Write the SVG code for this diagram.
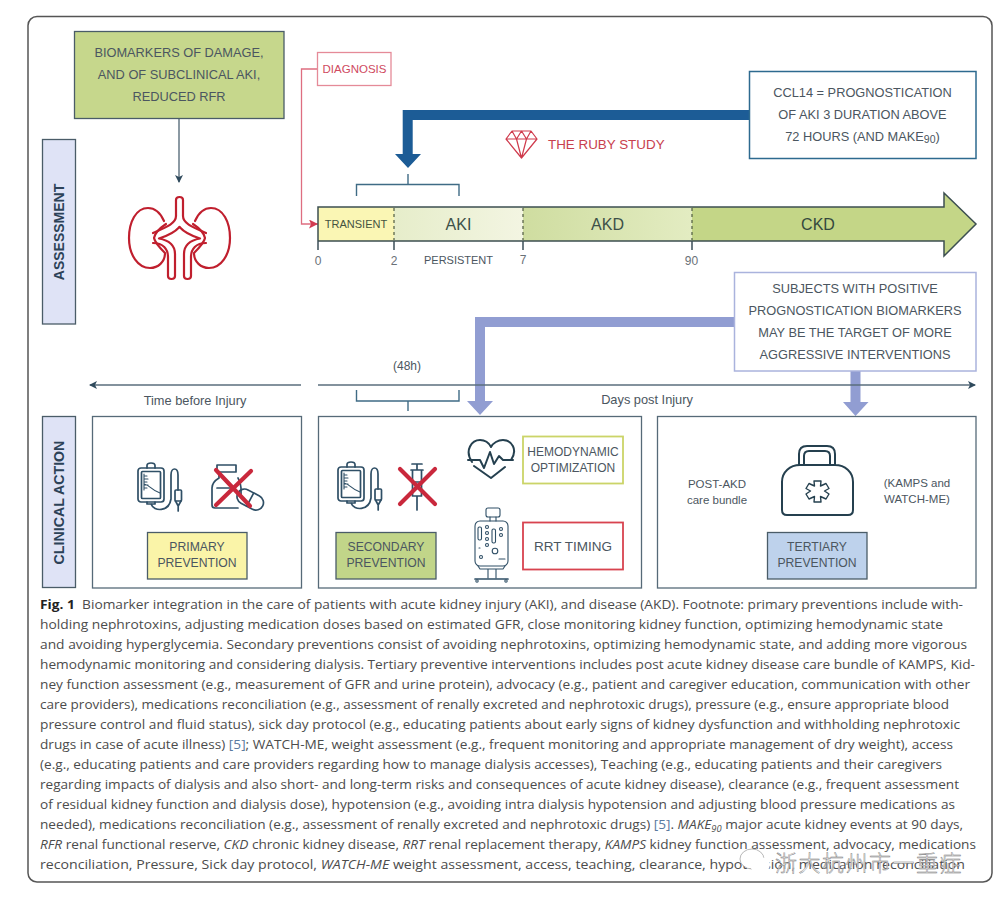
<svg xmlns="http://www.w3.org/2000/svg" width="997" height="901" viewBox="0 0 997 901">
<style>
text{font-family:"Liberation Sans",Arial,sans-serif;fill:#4b5660;text-anchor:middle}
.l{font-size:12.8px}
.cap{font-family:"Open Sans","Noto Sans",sans-serif;font-size:13.2px;fill:#4c4c4c;text-anchor:start}
.ic{fill:none;stroke:#2f4f66;stroke-width:1.7;stroke-linejoin:round;stroke-linecap:round}
.ict{fill:none;stroke:#2f4f66;stroke-width:1.1;stroke-linecap:round}
.x{fill:none;stroke:#c9283c;stroke-width:4.2;stroke-linecap:round}
.k{fill:none;stroke:#c01f2e;stroke-width:2.2;stroke-linejoin:round;stroke-linecap:round}
.box{stroke:#4a5c68;stroke-width:1.3}
.panel{fill:#fff;stroke:#566a78;stroke-width:1.3}
.thin{fill:none;stroke:#5a6e7c;stroke-width:1.4}
.br{fill:none;stroke:#3f6b85;stroke-width:1.4}
.tick{stroke:#3c4f58;stroke-width:1.5}
.dash{stroke:#4f5a40;stroke-width:1.2;stroke-dasharray:3 3}
.blue{fill:#1c5c96}
.lav{fill:#919dd2}
.wm{font-family:"Noto Sans CJK SC",sans-serif;font-size:22px;font-weight:300;fill:#fff;stroke:#777;stroke-width:.45;letter-spacing:1.5px;text-anchor:start}
</style>
<defs>
<marker id="ad" markerWidth="9" markerHeight="9" refX="7" refY="4" orient="auto" markerUnits="userSpaceOnUse"><path d="M0 0L8 4L0 8L2 4Z" fill="#2f4a5c"/></marker>
<marker id="ar" markerWidth="11" markerHeight="10" refX="9" refY="4.5" orient="auto" markerUnits="userSpaceOnUse"><path d="M0 0L9 4.5L0 9L2 4.5Z" fill="#d23c50"/></marker>
<linearGradient id="gAki" x1="0" x2="1" y1="0" y2="0"><stop offset="0" stop-color="#e6edca"/><stop offset="1" stop-color="#f3f5e2"/></linearGradient>
<linearGradient id="gAkd" x1="0" x2="1" y1="0" y2="0"><stop offset="0" stop-color="#cfdda0"/><stop offset="1" stop-color="#e3ecc2"/></linearGradient>
<g id="ivbag">
<rect class="ic" x="0" y="5" width="26" height="34" rx="3"/>
<rect class="ic" x="3.500" y="8.500" width="19" height="27" rx="1"/>
<path class="ic" d="M9 5V2.500Q9 0 13 0Q17 0 17 2.500V5"/>
<path class="ict" d="M6 11V27M6 13H9M6 16H10M6 19H9M6 22H10M6 25H9M6 21C12 22 13 27 22 30"/>
<path class="ic" d="M9 39V41H17V39M13 41C16 49 31 49 33 36V12C33 4 40 4 40 12V27"/>
<rect class="ic" x="37" y="27" width="6.500" height="11" rx="1"/>
<path class="ic" d="M37.500 38L40.200 43L43 38M40.200 43V48"/>
</g>
</defs>
<rect width="997" height="901" fill="#fff"/>
<rect x="28" y="16.500" width="964" height="865.500" rx="9" fill="#fff" stroke="#555" stroke-width="1.500"/>

<g id="connectors">
<path class="thin" d="M179 118.500V182" marker-end="url(#ad)"/>
<path d="M317.500 69H301.500V224H318" fill="none" stroke="#de6e80" stroke-width="1.300" marker-end="url(#ar)"/>
<path class="blue" d="M749.500 110H402.700V154H395L408 168L421 154H412.700V120H749.500Z"/>
<path class="lav" d="M734.500 317H475V401H467L480 415L493 401H485V327H734.500Z"/>
<path class="lav" d="M850.500 371V402H843L855.500 416L868.500 402H860.500V371Z"/>
<path class="thin" d="M301 385H90" marker-end="url(#ad)"/>
<path class="thin" d="M318 385H975" marker-end="url(#ad)"/>
<path class="br" d="M356.500 196V184.500H459V196M408 184.500V174"/>
<path class="br" d="M356.500 390V401H459V390M408 401V411"/>
</g>

<g id="biomarkers">
<rect class="box" x="74.500" y="31.500" width="209.500" height="87" fill="#c6d78c"/>
<text class="l" x="179" y="57">BIOMARKERS OF DAMAGE,</text>
<text class="l" x="179" y="79">AND OF SUBCLINICAL AKI,</text>
<text class="l" x="179" y="101">REDUCED RFR</text>
</g>

<g id="assessment">
<rect class="box" x="42.500" y="139.500" width="33" height="184.500" fill="#dfe3f6"/>
<text transform="translate(63.500 232) rotate(-90)" font-size="14" font-weight="700" style="fill:#2c4258">ASSESSMENT</text>
</g>

<g id="kidney">
<path class="k" d="M164 221C160 212 154 208 148 208C136 208 129 222 129 238C129 255 138 268 150 268C158 268 165 262 165 253C160 248 155 243 154 238C155 233 160 228 166 224"/>
<path class="k" d="M195 221C199 212 205 208 211 208C223 208 230 222 230 238C230 255 221 268 209 268C201 268 194 262 194 253C199 248 204 243 205 238C204 233 199 228 193 224"/>
<path class="k" d="M176 216V200Q176 197 179.500 197Q183 197 183 200V216C183 224 195 228 206 233"/>
<path class="k" d="M176 216C176 224 164 228 153 233"/>
<path class="k" d="M179.500 227C175 232 167 236 159 238.500C167 240 175 244 175 254V276Q175 279 171.500 279Q168 279 168 276V257C168 249 163 243 153 243"/>
<path class="k" d="M179.500 227C184 232 192 236 200 238.500C192 240 184 244 184 254V276Q184 279 187.500 279Q191 279 191 276V257C191 249 196 243 206 243"/>
</g>

<g id="diagnosis">
<rect x="317.500" y="52.500" width="73.500" height="33" fill="#fff" stroke="#e58a98" stroke-width="1.300"/>
<text x="354.500" y="73" font-size="11.500" style="fill:#cf4a60">DIAGNOSIS</text>
</g>

<g id="ruby">
<path d="M506 139L512 131H531L537 139L521.500 158ZM506 139H537M512 131L516.500 139L521.500 158L526.500 139L531 131M516.500 139L521.500 131L526.500 139" fill="none" stroke="#cf3a4c" stroke-width="1.200" stroke-linejoin="round"/>
<text x="548" y="149" font-size="13.400" style="fill:#c8404e;text-anchor:start">THE RUBY STUDY</text>
</g>

<g id="ccl14">
<rect x="749.500" y="71.500" width="226.500" height="87" fill="#fff" stroke="#2d6a8f" stroke-width="1.500"/>
<text class="l" x="862.500" y="97">CCL14 = PROGNOSTICATION</text>
<text class="l" x="862.500" y="119">OF AKI 3 DURATION ABOVE</text>
<text class="l" x="862.500" y="141">72 HOURS (AND MAKE<tspan font-size="10.500" dy="2">90</tspan><tspan dy="-2">)</tspan></text>
</g>

<g id="timeline">
<rect x="318" y="207" width="76" height="34" fill="#faf6b4"/>
<rect x="394" y="207" width="129" height="34" fill="url(#gAki)"/>
<rect x="523" y="207" width="169" height="34" fill="url(#gAkd)"/>
<path d="M692 207H944V193L976 224L944 256V241H692Z" fill="#c4d687"/>
<path d="M318 241V207H944V193L976 224L944 256V241H318" fill="none" stroke="#3c4f50" stroke-width="1.500"/>
<path class="dash" d="M394 208V240M523 208V240M692 208V240"/>
<path class="tick" d="M318 241V250M394 241V250M523 241V250M692 241V250"/>
<text x="356" y="228" font-size="11" style="fill:#45533f">TRANSIENT</text>
<text x="458.500" y="230" font-size="16" style="fill:#3d5048">AKI</text>
<text x="607.500" y="230" font-size="16" style="fill:#3d5048">AKD</text>
<text x="818" y="230" font-size="16" style="fill:#34483e">CKD</text>
<g font-size="12">
<text x="318" y="265" style="fill:#6a7178">0</text><text x="394" y="265" style="fill:#6a7178">2</text><text x="523" y="264" style="fill:#6a7178">7</text><text x="691.500" y="265" style="fill:#6a7178">90</text>
</g>
<text x="458.500" y="264" font-size="11">PERSISTENT</text>
</g>

<g id="subjects">
<rect x="734.500" y="272.500" width="241.500" height="98.500" fill="#fff" stroke="#aab3dd" stroke-width="1.500"/>
<text class="l" x="855" y="292.500">SUBJECTS WITH POSITIVE</text>
<text class="l" x="855" y="314.500">PROGNOSTICATION BIOMARKERS</text>
<text class="l" x="855" y="336.500">MAY BE THE TARGET OF MORE</text>
<text class="l" x="855" y="358.500">AGGRESSIVE INTERVENTIONS</text>
</g>

<g id="axis-labels">
<text x="407" y="370" font-size="12">(48h)</text>
<text x="195" y="405" font-size="12.800">Time before Injury</text>
<text x="647" y="404" font-size="12.800">Days post Injury</text>
</g>

<g id="clinical-action">
<rect class="box" x="42.500" y="416.500" width="33" height="171" fill="#dfe3f6"/>
<text transform="translate(64 502.500) rotate(-90)" font-size="14.200" font-weight="700" style="fill:#2c4258">CLINICAL ACTION</text>
</g>

<g id="primary">
<rect class="panel" x="92.500" y="416.500" width="209" height="171.500"/>
<use href="#ivbag" x="138" y="463"/>
<path class="ic" d="M217 465H236V472H217ZM219 472V478C214 481 212 484 212 488V505Q212 508 215 508H238M238 478C240 481 241 484 241 488V496M217 488H232"/>
<g transform="rotate(28 250 500)"><rect class="ic" x="236" y="492" width="28" height="15" rx="7.500"/><path class="ic" d="M250 492V507"/></g>
<path class="x" d="M216 470L250 506M251 471L216 505"/>
<rect class="box" x="147.500" y="532.500" width="99.500" height="46.500" fill="#faf4a8"/>
<text x="197" y="551" font-size="12.200">PRIMARY</text>
<text x="197" y="567" font-size="12.200">PREVENTION</text>
</g>

<g id="secondary">
<rect class="panel" x="318.500" y="416.500" width="323" height="171.500"/>
<use href="#ivbag" x="338" y="462"/>
<path class="ic" d="M412 464H422M417 464V470M411 470H423M412.500 470V496H421.500V470M417 496V510M412.500 482H421.500"/>
<path class="x" d="M400 469L435 504M435 469L400 504"/>
<rect class="box" x="336" y="532.500" width="100" height="46.500" fill="#c1d589"/>
<text x="386" y="551" font-size="12.200">SECONDARY</text>
<text x="386" y="567" font-size="12.200">PREVENTION</text>
</g>

<g id="heart">
<path class="ic" style="stroke-width:2;stroke:#25404f" d="M472 462C464 450 472 440 480 440C485 440 489 443 491 447C493 443 498 440 503 440C512 440 518 450 511 460M474 466L491 478L505 467M468 460H480L484 468L490 452L494 464L499 456L503 460H513"/>
</g>

<g id="hemodynamic">
<rect x="523" y="436.500" width="100" height="47" fill="#fff" stroke="#cbd468" stroke-width="1.800"/>
<text x="573" y="456" font-size="12">HEMODYNAMIC</text>
<text x="573" y="472" font-size="12">OPTIMIZATION</text>
</g>

<g id="machine">
<rect class="ict" x="486" y="508" width="14" height="9" rx="2"/>
<path class="ict" d="M490 517V521M496 517V521"/>
<rect class="ict" x="475" y="521" width="33" height="45" rx="5"/>
<rect class="ict" x="478" y="527" width="3.500" height="13" rx="1.500"/>
<rect class="ict" x="492" y="529" width="3.500" height="14" rx="1.500"/>
<circle class="ict" cx="487" cy="527" r="1.500"/><circle class="ict" cx="487" cy="533" r="1.500"/><circle class="ict" cx="487" cy="539" r="1.500"/><circle class="ict" cx="487" cy="545" r="1.500"/>
<circle class="ict" cx="501" cy="529" r="1.500"/><circle class="ict" cx="501" cy="535" r="1.500"/>
<circle class="ict" cx="495" cy="551" r="2.800"/><circle class="ict" cx="481" cy="557" r="1.500"/>
<path class="ict" d="M499 559H505M479 548H480M478 566L480 569H503L505 566M488 569V578M496 569V578"/>
<path class="ic" d="M475 579H508"/>
<circle class="ict" cx="477" cy="581" r="1.200"/><circle class="ict" cx="506" cy="581" r="1.200"/>
</g>

<g id="rrt">
<rect x="523" y="522.500" width="100" height="47" fill="#fff" stroke="#d8434f" stroke-width="1.800"/>
<text x="573" y="551" font-size="13.500">RRT TIMING</text>
</g>

<g id="tertiary">
<rect class="panel" x="657.500" y="416.500" width="318.500" height="171.500"/>
<text x="717" y="488" font-size="11.500">POST-AKD</text>
<text x="717" y="504" font-size="11.500">care bundle</text>
<text x="917" y="487" font-size="11.500">(KAMPS and</text>
<text x="917" y="503" font-size="11.500">WATCH-ME)</text>
<path class="ic" style="stroke-width:2;stroke:#25404f" d="M782 482C782 472 790 465 800 465H835C845 465 853 472 853 482V510Q853 515 848 515H787Q782 515 782 510ZM799 465V454Q799 446 807 446H827Q835 446 835 454V465M804 465V456Q804 451 809 451H825Q830 451 830 456V465"/>
<path class="ic" d="M814 481H821L820.500 486L826 483.500L829 488.500L824.500 491L829 494L826 499L820.500 496.500L821 502H814L814.500 496.500L809 499L806 494L810.500 491L806 488.500L809 483.500L814.500 486Z" style="stroke-width:1.400;stroke:#25404f"/>
<rect class="box" x="767.500" y="532.500" width="99.500" height="46.500" fill="#bed2ec" stroke="#5f7a92"/>
<text x="817" y="551" font-size="12.200">TERTIARY</text>
<text x="817" y="567" font-size="12.200">PREVENTION</text>
</g>

<g id="caption">
<text class="cap" x="40" y="609" textLength="923" lengthAdjust="spacingAndGlyphs"><tspan font-weight="700" style="fill:#222">Fig. 1</tspan><tspan dx="7">Biomarker integration in the care of patients with acute kidney injury (AKI), and disease (AKD). Footnote: primary preventions include with-</tspan></text>
<text class="cap" x="40" y="629" textLength="903" lengthAdjust="spacingAndGlyphs">holding nephrotoxins, adjusting medication doses based on estimated GFR, close monitoring kidney function, optimizing hemodynamic state</text>
<text class="cap" x="40" y="649" textLength="927" lengthAdjust="spacingAndGlyphs">and avoiding hyperglycemia. Secondary preventions consist of avoiding nephrotoxins, optimizing hemodynamic state, and adding more vigorous</text>
<text class="cap" x="40" y="669" textLength="935" lengthAdjust="spacingAndGlyphs">hemodynamic monitoring and considering dialysis. Tertiary preventive interventions includes post acute kidney disease care bundle of KAMPS, Kid-</text>
<text class="cap" x="40" y="689" textLength="930" lengthAdjust="spacingAndGlyphs">ney function assessment (e.g., measurement of GFR and urine protein), advocacy (e.g., patient and caregiver education, communication with other</text>
<text class="cap" x="40" y="709" textLength="909" lengthAdjust="spacingAndGlyphs">care providers), medications reconciliation (e.g., assessment of renally excreted and nephrotoxic drugs), pressure (e.g., ensure appropriate blood</text>
<text class="cap" x="40" y="729" textLength="920" lengthAdjust="spacingAndGlyphs">pressure control and fluid status), sick day protocol (e.g., educating patients about early signs of kidney dysfunction and withholding nephrotoxic</text>
<text class="cap" x="40" y="749" textLength="913" lengthAdjust="spacingAndGlyphs">drugs in case of acute illness) <tspan style="fill:#5a7aa0">[5]</tspan>; WATCH-ME, weight assessment (e.g., frequent monitoring and appropriate management of dry weight), access</text>
<text class="cap" x="40" y="769" textLength="902" lengthAdjust="spacingAndGlyphs">(e.g., educating patients and care providers regarding how to manage dialysis accesses), Teaching (e.g., educating patients and their caregivers</text>
<text class="cap" x="40" y="789" textLength="919" lengthAdjust="spacingAndGlyphs">regarding impacts of dialysis and also short- and long-term risks and consequences of acute kidney disease), clearance (e.g., frequent assessment</text>
<text class="cap" x="40" y="809" textLength="915" lengthAdjust="spacingAndGlyphs">of residual kidney function and dialysis dose), hypotension (e.g., avoiding intra dialysis hypotension and adjusting blood pressure medications as</text>
<text class="cap" x="40" y="829" textLength="923" lengthAdjust="spacingAndGlyphs">needed), medications reconciliation (e.g., assessment of renally excreted and nephrotoxic drugs) <tspan style="fill:#5a7aa0">[5]</tspan>. <tspan font-style="italic">MAKE<tspan font-size="9" dy="3">90</tspan></tspan><tspan dy="-3"> major acute kidney events at 90 days,</tspan></text>
<text class="cap" x="40" y="849" textLength="936" lengthAdjust="spacingAndGlyphs"><tspan font-style="italic">RFR</tspan> renal functional reserve, <tspan font-style="italic">CKD</tspan> chronic kidney disease, <tspan font-style="italic">RRT</tspan> renal replacement therapy, <tspan font-style="italic">KAMPS</tspan> kidney function assessment, advocacy, medications</text>
<text class="cap" x="40" y="869" textLength="925" lengthAdjust="spacingAndGlyphs">reconciliation, Pressure, Sick day protocol, <tspan font-style="italic">WATCH-ME</tspan> weight assessment, access, teaching, clearance, hypotension, medication reconciliation</text>
</g>

<g id="watermark">
<ellipse cx="752" cy="859" rx="12" ry="10" fill="#fff" stroke="#888" stroke-width=".6"/>
<ellipse cx="760" cy="865" rx="10" ry="8" fill="#fff"/>
<text class="wm" x="775" y="871">浙大杭州市一重症</text>
</g>
</svg>
